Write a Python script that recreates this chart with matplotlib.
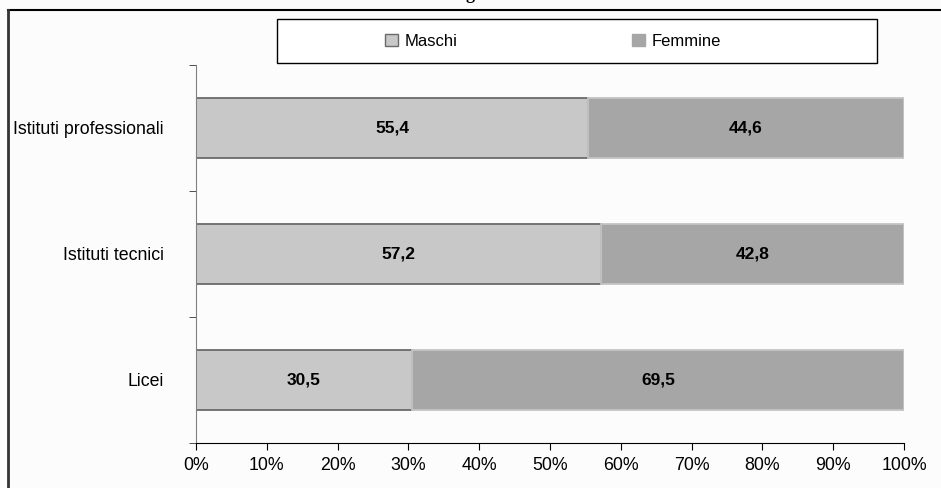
import matplotlib.pyplot as plt
import matplotlib
from matplotlib.lines import Line2D
from matplotlib.patches import Rectangle, Patch

matplotlib.rcParams.update({
    'font.family': 'Liberation Sans',
    'font.size': 12.8,
})

# dati (dal basso verso l'alto)
categorie = ['Licei', 'Istituti tecnici', 'Istituti professionali']
maschi = [30.5, 57.2, 55.4]
femmine = [69.5, 42.8, 44.6]
serie = ['Maschi', 'Femmine']
xticks = list(range(0, 101, 10))

col_m = '#c8c8c8'
col_f = '#a6a6a6'

fig = plt.figure(figsize=(9.41, 4.88), dpi=100)
fig.patch.set_facecolor('#fcfcfc')

W, H = 941, 488
ax = fig.add_axes([196 / W, 45 / H, 708 / W, 378 / H])
ax.set_facecolor('#fcfcfc')

pos = list(range(len(categorie)))
ax.barh(pos, maschi, height=0.48, color=col_m, edgecolor='#6a6a6a', linewidth=1.3)
ax.barh(pos, femmine, left=maschi, height=0.48, color=col_f, edgecolor='#c4c4c4', linewidth=1.3)

for i in pos:
    ax.text(maschi[i] / 2, i, f'{maschi[i]:.1f}'.replace('.', ','),
            ha='center', va='center', fontweight='bold', fontsize=12.5)
    ax.text(maschi[i] + femmine[i] / 2, i, f'{femmine[i]:.1f}'.replace('.', ','),
            ha='center', va='center', fontweight='bold', fontsize=12.5)

ax.set_xlim(0, 100)
ax.set_ylim(-0.5, len(categorie) - 0.5)
ax.set_xticks(xticks)
ax.set_xticklabels([f'{t}%' for t in xticks])
ax.set_yticks(pos)
ax.set_yticklabels(categorie)
ax.set_yticks([p - 0.5 for p in pos] + [len(categorie) - 0.5], minor=True)
ax.tick_params(axis='y', which='major', length=0, pad=23)
ax.tick_params(axis='y', which='minor', length=5, color='#333333', direction='out')
ax.tick_params(axis='x', length=5, direction='out', pad=5)

for s in ['top', 'right']:
    ax.spines[s].set_visible(False)
ax.spines['left'].set_color('#808080')
ax.spines['bottom'].set_color('black')

# legenda
fig.add_artist(Rectangle((277 / W, 1 - 63 / H), 600 / W, 44 / H, transform=fig.transFigure,
                         facecolor='white', edgecolor='black', linewidth=1))
handles = [Patch(facecolor=col_m, edgecolor='#6a6a6a'), Patch(facecolor=col_f, edgecolor=col_f)]
fig.legend(handles, serie, ncol=2, frameon=False, loc='center left',
           bbox_to_anchor=(370 / W, 1 - 41 / H), handlelength=0.8, handleheight=0.7,
           handletextpad=0.4, columnspacing=10.45, fontsize=12)

# cornice e titolo tagliato
fig.add_artist(Line2D([8 / W, 1], [1 - 9.5 / H, 1 - 9.5 / H], transform=fig.transFigure,
                      color='black', linewidth=1.5))
fig.add_artist(Line2D([8 / W, 8 / W], [0, 1 - 9.5 / H], transform=fig.transFigure,
                      color='#333333', linewidth=2))
fig.text(466 / W, 1 + 1 / H, 'g', ha='left', va='baseline', fontsize=13,
         fontweight='bold', family='Liberation Serif')

fig.savefig('out.png', dpi=100, facecolor=fig.get_facecolor())
